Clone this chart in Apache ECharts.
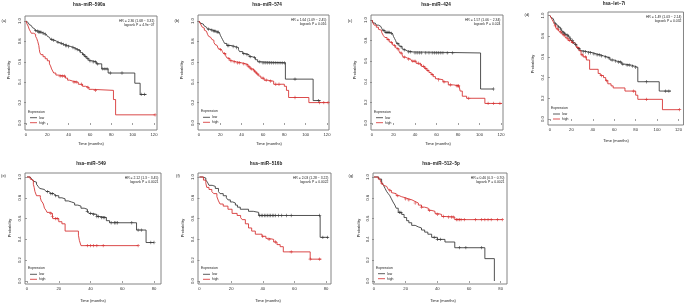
<!DOCTYPE html>
<html><head><meta charset="utf-8">
<script src="https://cdn.jsdelivr.net/npm/echarts@6/dist/echarts.min.js"></script>
<style>html,body{margin:0;padding:0;background:#fff}#c{width:685px;height:305px}</style>
</head><body><div id="c"></div>
<script>
// ---------- DATA ----------
const panelLetters = ['(a)','(b)','(c)','(d)','(e)','(f)','(g)'];
const panelTitles = ['hsa\u2212miR\u2212590a','hsa\u2212miR\u2212574','hsa\u2212miR\u2212424','hsa\u2212let\u22127i','hsa\u2212miR\u2212549','hsa\u2212miR\u2212516b','hsa\u2212miR\u2212512\u22125p'];
const hrTexts = ['HR = 2.36 (1.68 \u2212 3.31)','HR = 1.64 (1.09 \u2212 2.45)','HR = 1.57 (1.06 \u2212 2.34)','HR = 1.49 (1.03 \u2212 2.14)','HR = 2.12 (1.3 \u2212 3.45)','HR = 2.03 (1.28 \u2212 3.22)','HR = 0.46 (0.3 \u2212 0.70)'];
const pTexts = ['logrank P = 4.9e\u221207','logrank P = 0.016','logrank P = 0.024','logrank P = 0.032','logrank P = 0.0021','logrank P = 0.0022','logrank P = 0.0021'];
const timeTicks120 = [0,20,40,60,80,100,120];
const timeTicks80 = [0,20,40,60,80];
const probTicks = [0,0.2,0.4,0.6,0.8,1.0];
const xAxisTitle = 'Time (months)';
const yAxisTitle = 'Probability';
const legendTitle = 'Expression';
const groupNames = ['low','high'];

// (a) hsa-miR-590a
const lowA = [[0,1],[1,0.985],[2,0.975],[3,0.965],[4,0.955],[5,0.945],[6,0.935],[7,0.925],[8,0.915],[9,0.905],[10,0.9],[12,0.89],[15,0.88],[17,0.87],[19,0.86],[20,0.85],[21,0.84],[22,0.83],[23,0.82],[25,0.81],[27,0.8],[29,0.79],[31,0.78],[34,0.77],[36,0.76],[39,0.75],[42,0.74],[45,0.73],[47,0.72],[49,0.71],[51,0.69],[53,0.67],[55,0.65],[57,0.63],[59,0.61],[62,0.6],[66,0.58],[71,0.53],[77,0.49],[102,0.39],[107,0.28],[113,0.28]];
const highA = [[0,1],[1,0.97],[2,0.95],[3,0.92],[4,0.9],[5,0.88],[7,0.87],[9,0.85],[10,0.83],[11,0.8],[12,0.76],[12.5,0.72],[13,0.69],[14,0.67],[16,0.65],[18,0.63],[20,0.61],[22,0.58],[23,0.56],[24,0.53],[25,0.51],[26,0.49],[28,0.47],[30,0.46],[37,0.44],[39,0.42],[41,0.41],[44,0.4],[49,0.38],[53,0.36],[56,0.35],[59,0.33],[62,0.32],[82,0.23],[84,0.08],[121,0.08]];
const lowCensA = [9,11,12,13,14,16,18,24,26,30,33,35,37,38,40,44,46,48,50,54,56,58,60,63,65,67,72,74,76,79,90,108,111];
const highCensA = [32,34,36,45,47,52,58,65,121];

// (b) hsa-miR-574
const lowB = [[0,1],[1,0.98],[2,0.97],[4,0.96],[5,0.95],[6,0.94],[7,0.93],[8,0.92],[10,0.91],[13,0.9],[16,0.89],[19,0.88],[20,0.86],[21,0.84],[22,0.82],[23,0.8],[24,0.78],[26,0.76],[30,0.75],[34,0.74],[37,0.72],[38,0.7],[41,0.68],[44,0.67],[47,0.65],[50,0.64],[53,0.62],[55,0.6],[58,0.59],[81,0.43],[107,0.22],[114,0.22]];
const highB = [[0,1],[1,0.98],[2,0.96],[3,0.94],[4,0.93],[5,0.91],[6,0.9],[7,0.89],[8,0.87],[9,0.85],[10,0.84],[11,0.83],[12,0.82],[13,0.81],[14,0.79],[15,0.77],[16,0.76],[17,0.75],[18,0.73],[19,0.72],[21,0.71],[22,0.7],[23,0.68],[25,0.66],[26,0.64],[27,0.63],[29,0.61],[31,0.6],[35,0.59],[40,0.58],[44,0.57],[46,0.55],[48,0.53],[50,0.52],[52,0.5],[54,0.48],[56,0.46],[58,0.44],[61,0.42],[64,0.41],[70,0.38],[80,0.36],[82,0.32],[84,0.25],[103,0.2],[121,0.2]];
const lowCensB = [9,12,14,15,17,18,27,28,32,35,42,45,48,52,57,60,62,64,66,68,70,72,74,76,78,80,90,112];
const highCensB = [20,24,28,30,33,36,38,42,45,47,49,51,53,55,60,63,67,72,75,90,113,117,121];

// (c) hsa-miR-424
const lowC = [[0,1],[1,0.97],[3,0.96],[4,0.95],[6,0.94],[8,0.93],[9,0.92],[10,0.9],[12,0.88],[17,0.87],[19,0.86],[20,0.84],[21,0.82],[22,0.8],[23,0.77],[25,0.75],[26,0.74],[28,0.72],[29,0.71],[31,0.7],[33,0.69],[38,0.68],[101,0.33],[113,0.33]];
const highC = [[0,1],[1,0.97],[2,0.95],[4,0.93],[6,0.91],[7.5,0.9],[9,0.88],[10.5,0.85],[12,0.83],[14,0.81],[16,0.79],[17,0.78],[19,0.76],[20,0.75],[22,0.73],[23,0.72],[25,0.7],[26,0.68],[28,0.66],[29,0.64],[31,0.63],[33,0.62],[36,0.61],[37,0.6],[41,0.58],[44,0.57],[46,0.55],[49,0.53],[51,0.51],[53,0.49],[55,0.47],[57,0.45],[59,0.43],[61,0.42],[66,0.4],[71,0.37],[76,0.36],[81,0.35],[82,0.31],[84,0.26],[88,0.24],[105,0.19],[121,0.19]];
const lowCensC = [11,13,14,15,16,18,24,27,30,34,36,40,42,44,46,50,53,56,58,60,62,64,66,70,75,113];
const highCensC = [15,18,21,24,27,30,34,38,40,43,45,48,50,52,56,62,67,73,79,80,80.5,90,108,113,119];

// (d) hsa-let-7i
const lowD = [[0,1],[1,0.98],[2,0.97],[3,0.96],[4,0.94],[5,0.92],[6,0.91],[7,0.9],[8,0.89],[9,0.88],[10,0.87],[11,0.85],[12,0.84],[13,0.83],[14,0.82],[15.5,0.81],[17,0.8],[18.5,0.78],[20,0.76],[21.6,0.74],[23,0.72],[25,0.7],[26,0.68],[28,0.66],[30,0.65],[35,0.64],[40,0.63],[43,0.62],[47,0.61],[50,0.6],[53,0.59],[56,0.57],[60,0.56],[62,0.55],[67,0.53],[70,0.52],[76,0.51],[79,0.5],[82,0.36],[102,0.27],[113,0.27]];
const highD = [[0,1],[1,0.98],[2,0.96],[3,0.94],[4,0.92],[5,0.9],[6,0.87],[8,0.85],[9,0.84],[11,0.82],[12,0.81],[14,0.79],[15.5,0.78],[17,0.76],[20,0.74],[22,0.73],[24,0.71],[25,0.69],[27,0.66],[29,0.62],[31,0.6],[34,0.57],[37,0.48],[45,0.44],[47,0.42],[50,0.4],[52,0.37],[54,0.34],[57,0.32],[59,0.3],[70,0.27],[80,0.23],[82,0.19],[105,0.09],[121,0.09]];
const lowCensD = [5,8,10,12,13,14,16,17,19,21,22,24,27,31,33,36,38,41,44,46,48,52,55,58,61,64,66,68,72,74,77,80,90,108,111];
const highCensD = [5,7,10,13,16,18,21,26,30,33,48,53,78,90,121];

// (e) hsa-miR-549
const lowE = [[0,1],[2,0.99],[3,0.98],[4,0.96],[5,0.95],[6,0.93],[7,0.91],[8,0.89],[9,0.88],[11,0.87],[12,0.86],[14,0.85],[15,0.84],[17,0.83],[18,0.82],[20,0.8],[22,0.79],[24,0.77],[26,0.76],[28,0.75],[30,0.73],[32,0.72],[34,0.7],[36,0.69],[38,0.67],[39,0.65],[41,0.64],[44,0.62],[46,0.61],[50,0.58],[52,0.56],[69,0.49],[75,0.37],[80,0.37]];
const highE = [[0,1],[2,0.98],[3,0.97],[4,0.93],[4.5,0.9],[5,0.86],[6,0.82],[8.4,0.8],[9,0.77],[10,0.75],[10.5,0.73],[11,0.7],[12,0.68],[12.6,0.66],[14.7,0.65],[16,0.62],[16.3,0.6],[20,0.57],[22,0.55],[24,0.48],[32.4,0.44],[33,0.39],[34,0.34],[70,0.34]];
const lowCensE = [13,15,16,18,38,40,42,44,45,47,48,49,53,55,56,57,66,70,72,78,80];
const highCensE = [15,16,18,19,38,40,42,44,48,70];

// (f) hsa-miR-516b
const lowF = [[0,1],[2,0.99],[4,0.97],[5,0.95],[6,0.92],[8,0.91],[10,0.89],[12,0.86],[13,0.84],[15,0.82],[17,0.8],[18,0.78],[19.5,0.76],[21,0.75],[22.7,0.73],[24,0.71],[25.8,0.69],[31,0.67],[34,0.66],[37.4,0.63],[76.3,0.42],[81.5,0.42]];
const highF = [[0,1],[2.5,0.97],[4,0.94],[4.6,0.9],[6,0.88],[7.8,0.86],[9,0.84],[11,0.81],[12,0.77],[13,0.74],[15,0.72],[18,0.69],[20.6,0.65],[23.8,0.63],[26,0.61],[27,0.59],[29,0.55],[31,0.51],[33,0.48],[35.3,0.45],[39.5,0.43],[42,0.41],[43.7,0.4],[46.9,0.375],[49,0.35],[51,0.33],[53,0.28],[70,0.21],[77,0.21]];
const lowCensF = [38,39,40,41,42,43,44,45,46,47,48,50,52,55,58,76,78,81];
const highCensF = [40,44,48,58,70,76];

// (g) hsa-miR-512-5p
const lowG = [[0,1],[3,0.98],[4.8,0.95],[6,0.92],[7,0.89],[8,0.86],[9,0.84],[10,0.82],[11,0.79],[12,0.76],[13.2,0.73],[14,0.7],[15.3,0.66],[17.5,0.64],[19,0.61],[20.6,0.58],[22,0.56],[23.8,0.535],[26,0.52],[28,0.51],[30,0.49],[32,0.47],[34,0.45],[36.4,0.42],[40,0.4],[44.8,0.375],[51,0.32],[70,0.215],[76,0]];
const highG = [[0,1],[2.7,0.98],[4,0.96],[4.8,0.94],[6,0.92],[7,0.91],[8,0.9],[9,0.88],[10,0.87],[11,0.85],[12,0.84],[14,0.82],[16,0.81],[17.5,0.8],[20,0.79],[21.7,0.78],[24,0.765],[25.9,0.75],[28,0.73],[30,0.71],[32,0.7],[34.3,0.68],[36,0.67],[38.5,0.65],[40,0.64],[42.7,0.62],[46,0.615],[51,0.59],[81,0.59]];
const lowCensG = [16,17,38,40,42,54,58,68];
const highCensG = [5,10,15,20,22,26,30,35,40,44,47,49,50,52,53,54,55,57,64,68,70,72,74,78,81];

const lowCurves = [lowA,lowB,lowC,lowD,lowE,lowF,lowG];
const highCurves = [highA,highB,highC,highD,highE,highF,highG];
const lowCens = [lowCensA,lowCensB,lowCensC,lowCensD,lowCensE,lowCensF,lowCensG];
const highCens = [highCensA,highCensB,highCensC,highCensD,highCensE,highCensF,highCensG];
const timeTicks = [timeTicks120,timeTicks120,timeTicks120,timeTicks120,timeTicks80,timeTicks80,timeTicks80];

// ---------- LAYOUT (pixels) ----------
const layout = [
  {l:25, r:157, t:16, b:130, x0:26, xE:154, y1:21, y0:123, ty:5, px:8.5, py:70, lx:4, ly:21, xty:144, tx:89, hy:122.7},
  {l:198,r:329, t:15, b:130, x0:199,xE:327, y1:21, y0:123, ty:5, px:181.5,py:70, lx:177,ly:21, xty:144, tx:267, hy:122.3},
  {l:371,r:503, t:15, b:130, x0:372,xE:501, y1:20, y0:123, ty:5, px:355,py:70, lx:350,ly:21, xty:144, tx:436, hy:122.7},
  {l:548,r:684, t:12, b:125, x0:550,xE:679, y1:15.5,y0:119, ty:3.5, px:533,py:64, lx:527,ly:15, xty:141, tx:614, hy:119},
  {l:25, r:161, t:173,b:284, x0:27, xE:154, y1:177,y0:281, ty:163.5,px:10, py:228,lx:3.5,ly:176, xty:300.5, tx:91, hy:279.3},
  {l:198,r:331, t:173,b:284, x0:199.5,xE:326,y1:177,y0:281, ty:163.5,px:182.5,py:228,lx:178,ly:176, xty:300.5, tx:266, hy:279.3},
  {l:373,r:507, t:173,b:284, x0:374,xE:500.7,y1:177,y0:281, ty:163.5,px:358.5,py:228,lx:351,ly:176, xty:300.5, tx:441, hy:278.7}
];
const COL_LOW = '#333333', COL_HIGH = '#d42a2a', COL_BOX = '#777777', FONT = 'Liberation Sans, Arial, sans-serif';

function survAt(curve, t){ let s = curve[0][1]; for (const p of curve){ if (p[0] <= t) s = p[1]; else break; } return s; }
const plusPath = 'path://M4,0H6V4H10V6H6V10H4V6H0V4H4Z';

const grids=[], xAxes=[], yAxes=[], series=[], graphics=[];
layout.forEach((L,i)=>{
  const ticks = timeTicks[i];
  const xt = ticks[ticks.length-1];
  const ppm = (L.xE - L.x0)/xt;
  const ppp = (L.y0 - L.y1);
  grids.push({left:L.l, top:L.t, width:L.r-L.l, height:L.b-L.t, show:true, borderColor:COL_BOX, borderWidth:0.9, backgroundColor:'transparent'});
  xAxes.push({type:'value', gridIndex:i, min:(L.l-L.x0)/ppm, max: xt + (L.r-L.xE)/ppm,
    axisLine:{show:false}, splitLine:{show:false},
    axisTick:{show:true, customValues:ticks, length:2, lineStyle:{color:COL_BOX, width:0.7}},
    axisLabel:{customValues:ticks, fontSize:4.2, color:'#333', margin:2.5, fontFamily:FONT}});
  yAxes.push({type:'value', gridIndex:i, min:-(L.b-L.y0)/ppp, max: 1 + (L.y1-L.t)/ppp,
    axisLine:{show:false}, splitLine:{show:false},
    axisTick:{show:true, customValues:probTicks, length:2, lineStyle:{color:COL_BOX, width:0.7}},
    axisLabel:{customValues:probTicks, fontSize:4.2, color:'#333', margin:3, rotate:90, fontFamily:FONT, formatter:v=>v.toFixed(1)}});
  const lineS = (data,col)=>({type:'line', xAxisIndex:i, yAxisIndex:i, data, step:'end', showSymbol:false, symbol:'none',
    lineStyle:{color:col, width:0.85}, silent:true, animation:false, z:2});
  series.push(lineS(lowCurves[i], COL_LOW));
  series.push(lineS(highCurves[i], COL_HIGH));
  const censS = (times, curve, col)=>({type:'scatter', xAxisIndex:i, yAxisIndex:i, data: times.map(t=>[t, survAt(curve,t)]),
    symbol:plusPath, symbolSize:3.3, itemStyle:{color:col}, silent:true, animation:false, z:3});
  series.push(censS(lowCens[i], lowCurves[i], COL_LOW));
  series.push(censS(highCens[i], highCurves[i], COL_HIGH));

  const txt = (text, x, y, size, opts={}) => ({type:'text', x, y, rotation: opts.rot||0, silent:true,
    style:{text, x:0, y:0, fill: opts.fill||'#222', fontSize:size, fontFamily:FONT, fontWeight: opts.bold?'bold':'normal',
      align: opts.align||'center', verticalAlign:'middle'}});
  graphics.push(txt(panelTitles[i], L.tx, L.ty, 4.6, {bold:true}));
  graphics.push(txt(panelLetters[i], L.lx, L.ly, 4));
  graphics.push(txt(yAxisTitle, L.px, L.py, 4, {rot:Math.PI/2}));
  graphics.push(txt(xAxisTitle, L.tx + 2, L.xty, 4));
  graphics.push(txt(hrTexts[i], L.r-2.5, L.t+4.8, 3.4, {align:'right'}));
  graphics.push(txt(pTexts[i], L.r-2.5, L.t+9.2, 3.4, {align:'right'}));
  // legend (bottom-left inset)
  const lgX = L.l + 3;
  graphics.push(txt(legendTitle, lgX, L.hy - 11, 3.4, {align:'left'}));
  [COL_LOW, COL_HIGH].forEach((c,k)=>{
    const yy = L.hy - 5 + k*5;
    graphics.push({type:'line', silent:true, shape:{x1:lgX+2, y1:yy, x2:lgX+9, y2:yy}, style:{stroke:c, lineWidth:0.8}});
    graphics.push(txt(groupNames[k], lgX+11, yy, 3.4, {align:'left'}));
  });
});

const chart = echarts.init(document.getElementById('c'), null, {renderer:'canvas'});
chart.setOption({animation:false, backgroundColor:'#fff', grid:grids, xAxis:xAxes, yAxis:yAxes, series, graphic:graphics});
</script></body></html>
